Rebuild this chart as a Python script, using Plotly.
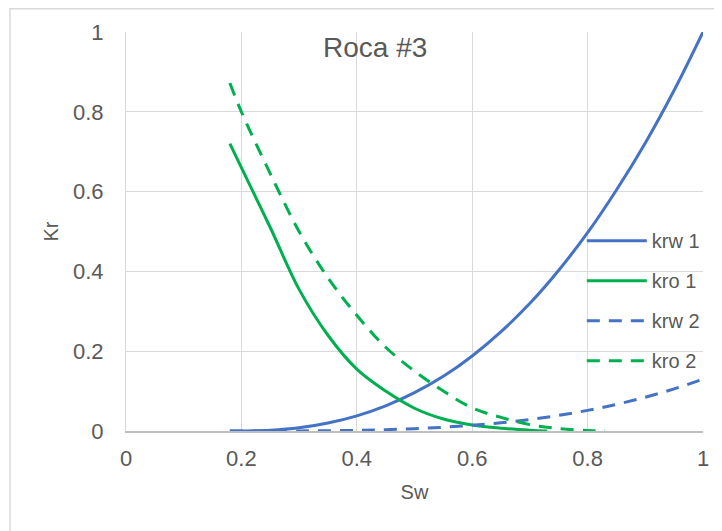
import plotly.graph_objects as go

# ---- data ----
sw_krw1 = [0.18, 0.20, 0.25, 0.30, 0.35, 0.40, 0.45, 0.50, 0.55, 0.60,
           0.65, 0.70, 0.75, 0.80, 0.85, 0.90, 0.95, 1.00]
krw1 = [0.0, 0.0001, 0.002, 0.008, 0.02, 0.038, 0.063, 0.096, 0.137, 0.188,
        0.249, 0.32, 0.403, 0.497, 0.604, 0.722, 0.854, 1.0]

sw_kro1 = [0.18, 0.20, 0.25, 0.30, 0.35, 0.40, 0.45, 0.50, 0.55, 0.60,
           0.65, 0.70, 0.73]
kro1 = [0.72, 0.66, 0.51, 0.355, 0.24, 0.155, 0.10, 0.057, 0.03, 0.015,
        0.007, 0.002, 0.0]

sw_krw2 = [0.18, 0.30, 0.40, 0.45, 0.50, 0.55, 0.60, 0.65, 0.70, 0.75,
           0.80, 0.85, 0.90, 0.95, 1.00]
krw2 = [0.0, 0.0002, 0.0017, 0.0033, 0.0058, 0.0094, 0.0143, 0.0207, 0.0289,
        0.0391, 0.0517, 0.0667, 0.0846, 0.1056, 0.13]

sw_kro2 = [0.18, 0.20, 0.25, 0.30, 0.35, 0.40, 0.45, 0.50, 0.55, 0.60,
           0.65, 0.70, 0.75, 0.80, 0.83]
kro2 = [0.872, 0.80, 0.645, 0.50, 0.384, 0.29, 0.21, 0.15, 0.10, 0.058,
        0.034, 0.016, 0.006, 0.001, 0.0]

tick_vals = [0, 0.2, 0.4, 0.6, 0.8, 1]
tick_text = ["0", "0.2", "0.4", "0.6", "0.8", "1"]

BLUE = "#4472C4"
GREEN = "#00B050"
TXT = "#595959"
GRID = "#D9D9D9"
FONT = "Liberation Sans, Arial, sans-serif"

fig = go.Figure()
series = [
    ("krw 1", sw_krw1, krw1, BLUE, "solid"),
    ("kro 1", sw_kro1, kro1, GREEN, "solid"),
    ("krw 2", sw_krw2, krw2, BLUE, "13px,9px"),
    ("kro 2", sw_kro2, kro2, GREEN, "13px,9px"),
]
for name, xs, ys, col, dash in series:
    fig.add_trace(go.Scatter(
        x=xs, y=ys, name=name, mode="lines", legendgroup=name,
        line=dict(color=col, width=3, dash=dash, shape="spline", smoothing=1.0),
        hoverinfo="skip",
    ))

fig.update_layout(
    width=714, height=523,
    margin=dict(l=118, r=19, t=24, b=100),
    paper_bgcolor="white", plot_bgcolor="white",
    font=dict(family=FONT, color=TXT, size=22),
    showlegend=True,
    legend=dict(
        x=0.79, y=0.526, xanchor="left", yanchor="top",
        bgcolor="rgba(0,0,0,0)", borderwidth=0,
        font=dict(size=20, color=TXT, family=FONT),
        itemwidth=60, tracegroupgap=11, traceorder="grouped",
    ),
    xaxis=dict(
        range=[0, 1], tickvals=tick_vals, ticktext=tick_text,
        showgrid=True, gridcolor=GRID, gridwidth=1,
        zeroline=False, showline=True, linecolor="#BFBFBF", linewidth=1.5,
        ticks="outside", ticklen=7, tickcolor="rgba(0,0,0,0)",
        tickfont=dict(size=22, color=TXT, family=FONT),
        title=dict(text="Sw", standoff=15, font=dict(size=20, color=TXT, family=FONT)),
    ),
    yaxis=dict(
        range=[0, 1], tickvals=tick_vals, ticktext=tick_text,
        showgrid=True, gridcolor=GRID, gridwidth=1,
        zeroline=False, showline=True, linecolor=GRID, linewidth=1,
        ticks="", ticklabelstandoff=17,
        tickfont=dict(size=22, color=TXT, family=FONT),
        title=dict(text="Kr", standoff=9, font=dict(size=20, color=TXT, family=FONT)),
    ),
    annotations=[dict(
        text="Roca #3", xref="paper", yref="paper", x=0.4315, y=0.961,
        xanchor="center", yanchor="middle", showarrow=False,
        font=dict(size=28, color=TXT, family=FONT),
    )],
    shapes=[dict(
        type="rect", xref="paper", yref="paper",
        x0=(2 - 118) / 577, x1=(740 - 118) / 577,
        y0=(423 - 560) / 399, y1=(423 - 0.75) / 399,
        line=dict(color=GRID, width=1.5), fillcolor="rgba(0,0,0,0)", layer="below",
    )],
)

fig.write_html("out.html")
